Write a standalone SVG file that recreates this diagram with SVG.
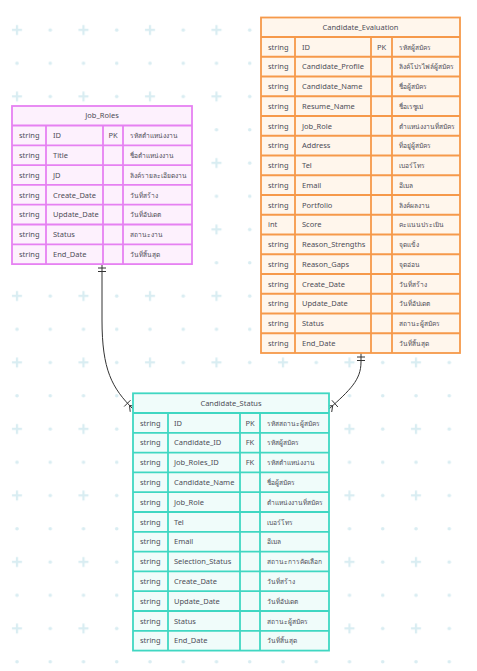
<svg xmlns="http://www.w3.org/2000/svg" width="477" height="671" viewBox="0 0 477 671">
<style>
text{font-family:"Noto Sans","DejaVu Sans",sans-serif;font-size:7.5px;fill:#4d4d57}
text.t{font-size:6.6px}
.c{text-anchor:middle}
.jr rect,.jr line{stroke:#e681f2;stroke-width:1.8}
.jr rect{fill:#fdf1fd}
.ce rect,.ce line{stroke:#f6994a;stroke-width:1.8}
.ce rect{fill:#fff6ec}
.cs rect,.cs line{stroke:#40d7c2;stroke-width:1.8}
.cs rect{fill:#f0fcfa}
.edge path{fill:none;stroke:#333;stroke-width:1}
</style>
<defs>
<pattern id="bg" width="66.5" height="66.5" patternUnits="userSpaceOnUse">
<path d="M12,30H22M17,25V35" stroke="#d9edf2" stroke-width="2.2" fill="none"/>
<circle cx="50.25" cy="30" r="1.8" fill="#d9edf2"/>
<circle cx="17" cy="63.25" r="1.8" fill="#d9edf2"/>
<circle cx="50.25" cy="63.25" r="1.8" fill="#d9edf2"/>
</pattern>
</defs>
<rect width="477" height="671" fill="#fff"/>
<rect width="477" height="671" fill="url(#bg)"/>

<g id="connectors" class="edge">
<path d="M102,265 L102,320 C102,370 112,388 133,409"/>
<path d="M98,268H106M98,271.5H106"/>
<path d="M124.2,406.5L130.5,400.2M129.5,405.5L130.2,411.8M129.5,405.5L135.8,406.2"/>
<path d="M361,353 L361,362 C361,380 350,390 329,409"/>
<path d="M357,357H365M357,360.5H365"/>
<path d="M337.9,407L331.9,400.3M332.7,405.7L331.7,412M332.7,405.7L326.3,406"/>
</g>

<g id="Job_Roles" class="jr">
<rect x="12" y="106" width="180" height="158.1"/>
<line x1="12" y1="125.5" x2="192" y2="125.5"/>
<line x1="12" y1="145.3" x2="192" y2="145.3"/>
<line x1="12" y1="165.1" x2="192" y2="165.1"/>
<line x1="12" y1="184.9" x2="192" y2="184.9"/>
<line x1="12" y1="204.7" x2="192" y2="204.7"/>
<line x1="12" y1="224.5" x2="192" y2="224.5"/>
<line x1="12" y1="244.3" x2="192" y2="244.3"/>
<line x1="46" y1="125.5" x2="46" y2="264.1"/>
<line x1="103" y1="125.5" x2="103" y2="264.1"/>
<line x1="123" y1="125.5" x2="123" y2="264.1"/>
<text class="c" x="102" y="118.4">Job_Roles</text>
<text x="19" y="138.1">string</text><text x="53" y="138.1">ID</text><text class="c" x="113" y="138.1">PK</text><text class="t" x="130" y="138.1">รหัสตำแหน่งงาน</text>
<text x="19" y="157.9">string</text><text x="53" y="157.9">Title</text><text class="t" x="130" y="157.9">ชื่อตำแหน่งงาน</text>
<text x="19" y="177.7">string</text><text x="53" y="177.7">JD</text><text class="t" x="130" y="177.7">ลิงค์รายละเอียดงาน</text>
<text x="19" y="197.5">string</text><text x="53" y="197.5">Create_Date</text><text class="t" x="130" y="197.5">วันที่สร้าง</text>
<text x="19" y="217.3">string</text><text x="53" y="217.3">Update_Date</text><text class="t" x="130" y="217.3">วันที่อัปเดต</text>
<text x="19" y="237.1">string</text><text x="53" y="237.1">Status</text><text class="t" x="130" y="237.1">สถานะงาน</text>
<text x="19" y="256.9">string</text><text x="53" y="256.9">End_Date</text><text class="t" x="130" y="256.9">วันที่สิ้นสุด</text>
</g>

<g id="Candidate_Evaluation" class="ce">
<rect x="261" y="17.5" width="199" height="335.5"/>
<line x1="261" y1="37" x2="460" y2="37"/>
<line x1="261" y1="56.75" x2="460" y2="56.75"/>
<line x1="261" y1="76.5" x2="460" y2="76.5"/>
<line x1="261" y1="96.25" x2="460" y2="96.25"/>
<line x1="261" y1="116" x2="460" y2="116"/>
<line x1="261" y1="135.75" x2="460" y2="135.75"/>
<line x1="261" y1="155.5" x2="460" y2="155.5"/>
<line x1="261" y1="175.25" x2="460" y2="175.25"/>
<line x1="261" y1="195" x2="460" y2="195"/>
<line x1="261" y1="214.75" x2="460" y2="214.75"/>
<line x1="261" y1="234.5" x2="460" y2="234.5"/>
<line x1="261" y1="254.25" x2="460" y2="254.25"/>
<line x1="261" y1="274" x2="460" y2="274"/>
<line x1="261" y1="293.75" x2="460" y2="293.75"/>
<line x1="261" y1="313.5" x2="460" y2="313.5"/>
<line x1="261" y1="333.25" x2="460" y2="333.25"/>
<line x1="295" y1="37" x2="295" y2="353"/>
<line x1="371" y1="37" x2="371" y2="353"/>
<line x1="392" y1="37" x2="392" y2="353"/>
<text class="c" x="360.5" y="29.8">Candidate_Evaluation</text>
<text x="268" y="49.6">string</text><text x="302" y="49.6">ID</text><text class="c" x="381.5" y="49.6">PK</text><text class="t" x="399" y="49.6">รหัสผู้สมัคร</text>
<text x="268" y="69.35">string</text><text x="302" y="69.35">Candidate_Profile</text><text class="t" x="399" y="69.35">ลิงค์โปรไฟล์ผู้สมัคร</text>
<text x="268" y="89.1">string</text><text x="302" y="89.1">Candidate_Name</text><text class="t" x="399" y="89.1">ชื่อผู้สมัคร</text>
<text x="268" y="108.85">string</text><text x="302" y="108.85">Resume_Name</text><text class="t" x="399" y="108.85">ชื่อเรซูเม่</text>
<text x="268" y="128.6">string</text><text x="302" y="128.6">Job_Role</text><text class="t" x="399" y="128.6">ตำแหน่งงานที่สมัคร</text>
<text x="268" y="148.35">string</text><text x="302" y="148.35">Address</text><text class="t" x="399" y="148.35">ที่อยู่ผู้สมัคร</text>
<text x="268" y="168.1">string</text><text x="302" y="168.1">Tel</text><text class="t" x="399" y="168.1">เบอร์โทร</text>
<text x="268" y="187.85">string</text><text x="302" y="187.85">Email</text><text class="t" x="399" y="187.85">อีเมล</text>
<text x="268" y="207.6">string</text><text x="302" y="207.6">Portfolio</text><text class="t" x="399" y="207.6">ลิงค์ผลงาน</text>
<text x="268" y="227.35">int</text><text x="302" y="227.35">Score</text><text class="t" x="399" y="227.35">คะแนนประเมิน</text>
<text x="268" y="247.1">string</text><text x="302" y="247.1">Reason_Strengths</text><text class="t" x="399" y="247.1">จุดแข็ง</text>
<text x="268" y="266.85">string</text><text x="302" y="266.85">Reason_Gaps</text><text class="t" x="399" y="266.85">จุดอ่อน</text>
<text x="268" y="286.6">string</text><text x="302" y="286.6">Create_Date</text><text class="t" x="399" y="286.6">วันที่สร้าง</text>
<text x="268" y="306.35">string</text><text x="302" y="306.35">Update_Date</text><text class="t" x="399" y="306.35">วันที่อัปเดต</text>
<text x="268" y="326.1">string</text><text x="302" y="326.1">Status</text><text class="t" x="399" y="326.1">สถานะผู้สมัคร</text>
<text x="268" y="345.85">string</text><text x="302" y="345.85">End_Date</text><text class="t" x="399" y="345.85">วันที่สิ้นสุด</text>
</g>

<g id="Candidate_Status" class="cs">
<rect x="133" y="393.3" width="196" height="257.3"/>
<line x1="133" y1="413" x2="329" y2="413"/>
<line x1="133" y1="432.8" x2="329" y2="432.8"/>
<line x1="133" y1="452.6" x2="329" y2="452.6"/>
<line x1="133" y1="472.4" x2="329" y2="472.4"/>
<line x1="133" y1="492.2" x2="329" y2="492.2"/>
<line x1="133" y1="512" x2="329" y2="512"/>
<line x1="133" y1="531.8" x2="329" y2="531.8"/>
<line x1="133" y1="551.6" x2="329" y2="551.6"/>
<line x1="133" y1="571.4" x2="329" y2="571.4"/>
<line x1="133" y1="591.2" x2="329" y2="591.2"/>
<line x1="133" y1="611" x2="329" y2="611"/>
<line x1="133" y1="630.8" x2="329" y2="630.8"/>
<line x1="168" y1="413" x2="168" y2="650.6"/>
<line x1="240" y1="413" x2="240" y2="650.6"/>
<line x1="260" y1="413" x2="260" y2="650.6"/>
<text class="c" x="231" y="405.6">Candidate_Status</text>
<text x="140" y="425.6">string</text><text x="174" y="425.6">ID</text><text class="c" x="250" y="425.6">PK</text><text class="t" x="267" y="425.6">รหัสสถานะผู้สมัคร</text>
<text x="140" y="445.4">string</text><text x="174" y="445.4">Candidate_ID</text><text class="c" x="250" y="445.4">FK</text><text class="t" x="267" y="445.4">รหัสผู้สมัคร</text>
<text x="140" y="465.2">string</text><text x="174" y="465.2">Job_Roles_ID</text><text class="c" x="250" y="465.2">FK</text><text class="t" x="267" y="465.2">รหัสตำแหน่งงาน</text>
<text x="140" y="485">string</text><text x="174" y="485">Candidate_Name</text><text class="t" x="267" y="485">ชื่อผู้สมัคร</text>
<text x="140" y="504.8">string</text><text x="174" y="504.8">Job_Role</text><text class="t" x="267" y="504.8">ตำแหน่งงานที่สมัคร</text>
<text x="140" y="524.6">string</text><text x="174" y="524.6">Tel</text><text class="t" x="267" y="524.6">เบอร์โทร</text>
<text x="140" y="544.4">string</text><text x="174" y="544.4">Email</text><text class="t" x="267" y="544.4">อีเมล</text>
<text x="140" y="564.2">string</text><text x="174" y="564.2">Selection_Status</text><text class="t" x="267" y="564.2">สถานะการคัดเลือก</text>
<text x="140" y="584">string</text><text x="174" y="584">Create_Date</text><text class="t" x="267" y="584">วันที่สร้าง</text>
<text x="140" y="603.8">string</text><text x="174" y="603.8">Update_Date</text><text class="t" x="267" y="603.8">วันที่อัปเดต</text>
<text x="140" y="623.6">string</text><text x="174" y="623.6">Status</text><text class="t" x="267" y="623.6">สถานะผู้สมัคร</text>
<text x="140" y="643.4">string</text><text x="174" y="643.4">End_Date</text><text class="t" x="267" y="643.4">วันที่สิ้นสุด</text>
</g>
</svg>
